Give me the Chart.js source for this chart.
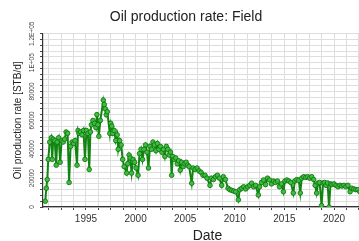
<!DOCTYPE html>
<html>
<head>
<meta charset="utf-8">
<title>Oil production rate: Field</title>
<script src="https://cdn.jsdelivr.net/npm/chart.js@4/dist/chart.umd.min.js"></script>
<style>
  html, body { margin: 0; padding: 0; background: #fff; overflow: hidden; }
  #wrap { width: 359px; height: 241px; overflow: hidden; }
  canvas { display: block; }
</style>
</head>
<body>
<div id="wrap"><canvas id="chart" width="382" height="246"></canvas></div>
<script>
// dates as decimal years, rates in STB/d
const years = [
  1990.9, 1991.0, 1991.1, 1991.2, 1991.35, 1991.5, 1991.6, 1991.7, 1991.85, 1992.0,
  1992.1, 1992.25, 1992.4, 1992.55, 1992.7, 1992.85, 1993.0, 1993.15, 1993.3, 1993.45,
  1993.6, 1993.75, 1993.9, 1994.1, 1994.2, 1994.3, 1994.45, 1994.6, 1994.75, 1994.9,
  1995.05, 1995.2, 1995.33, 1995.45, 1995.55, 1995.7, 1995.85, 1996.0, 1996.1, 1996.2,
  1996.3, 1996.45, 1996.75, 1996.85, 1996.95, 1997.05, 1997.15, 1997.4, 1997.5, 1997.6,
  1997.7, 1997.85, 1998.0, 1998.15, 1998.25, 1998.4, 1998.55, 1998.7, 1998.85, 1999.1,
  1999.2, 1999.35, 1999.45, 1999.6, 1999.75, 1999.9, 2000.05, 2000.25, 2000.4, 2000.55,
  2000.7, 2000.85, 2001.0, 2001.15, 2001.3, 2001.45, 2001.6, 2001.75, 2001.9, 2002.05,
  2002.2, 2002.35, 2002.5, 2002.65, 2002.8, 2002.95, 2003.1, 2003.25, 2003.4, 2003.52,
  2003.64, 2003.75, 2003.9, 2004.05, 2004.2, 2004.35, 2004.5, 2004.65, 2004.8, 2004.95,
  2005.1, 2005.25, 2005.4, 2005.66, 2005.8, 2006.0, 2006.2, 2006.4, 2006.6, 2006.8,
  2007.0, 2007.2, 2007.5, 2007.65, 2007.85, 2008.05, 2008.25, 2008.45, 2008.68, 2008.85,
  2009.05, 2009.32, 2009.5, 2009.7, 2009.9, 2010.1, 2010.36, 2010.5, 2010.7, 2010.9,
  2011.1, 2011.3, 2011.5, 2011.7, 2011.9, 2012.1, 2012.37, 2012.5, 2012.7, 2012.9,
  2013.1, 2013.3, 2013.5, 2013.7, 2013.9, 2014.1, 2014.3, 2014.5, 2014.7, 2014.9,
  2015.05, 2015.25, 2015.45, 2015.65, 2015.9, 2016.05, 2016.25, 2016.45, 2016.6, 2016.75,
  2016.95, 2017.15, 2017.35, 2017.55, 2017.75, 2017.95, 2018.1, 2018.25, 2018.4, 2018.55,
  2018.75, 2018.9, 2019.05, 2019.2, 2019.35, 2019.5, 2019.65, 2019.8, 2020.0, 2020.2,
  2020.4, 2020.6, 2020.8, 2021.0, 2021.2, 2021.4, 2021.62, 2021.8, 2022.0, 2022.2,
  2022.4, 2022.6, 2022.8, 2023.0, 2023.2, 2023.4, 2023.6
];
const rates = [
  4000, 13000, 19000, 33000, 45000, 48000, 33000, 47000, 46000, 29000,
  45000, 48000, 31000, 46000, 45000, 47000, 52000, 51000, 17000, 42000,
  45000, 44000, 46000, 29000, 53000, 51000, 52000, 50000, 53000, 33000,
  53000, 51000, 26000, 52000, 57000, 60000, 58000, 55000, 64000, 57000,
  49000, 60000, 74000, 71000, 68000, 64000, 66000, 51000, 58000, 56000,
  51000, 53000, 46000, 50000, 40000, 46000, 43000, 33000, 28000, 23500,
  30000, 36000, 34000, 23500, 33000, 31000, 27000, 22000, 37000, 40000,
  33000, 40000, 43000, 38000, 27000, 42000, 40000, 45000, 43000, 39000,
  44000, 40000, 42000, 38000, 40000, 35000, 42000, 40000, 36000, 38000,
  22000, 35000, 33000, 34000, 30000, 32000, 25500, 31000, 28000, 30000,
  31000, 29000, 28000, 16500, 27000, 26000, 27000, 25000, 24000, 22000,
  22000, 20000, 15000, 20000, 19000, 21000, 22000, 20000, 15000, 21000,
  19000, 13000, 12000, 11500, 11000, 10600, 5000, 12000, 13000, 14000,
  12500, 14000, 15000, 16500, 14000, 15000, 8300, 14000, 17000, 18700,
  15500, 20000, 18700, 16000, 18000, 17000, 18000, 14000, 16000, 10600,
  18000, 18700, 18000, 17000, 9700, 18000, 19000, 18500, 9700, 20000,
  21000, 20500, 21000, 20000, 21000, 19000, 15000, 9700, 16600, 17000,
  1000, 16600, 17000, 15000, 16600, 0, 16000, 15500, 16000, 15000,
  14000, 15000, 14500, 15000, 14000, 15000, 10600, 13000, 12500, 12000,
  12000, 10600, 11500, 11000, 11500, 10500, 11000
];

const xMin = 1990.67;
const xMax = 2023.83;
const yTickLabels = { 0: '0', 20000: '20000', 40000: '40000', 60000: '60000', 80000: '80000', 100000: '1E+05', 120000: '1.2E+05' };

const points = years.map((yr, i) => ({ x: yr, y: rates[i] }));

const ctx = document.getElementById('chart').getContext('2d');
new Chart(ctx, {
  type: 'line',
  data: {
    datasets: [{
      label: 'Field',
      data: points,
      borderColor: '#108510',
      borderWidth: 2,
      pointRadius: 2.3,
      pointBorderWidth: 0.9,
      pointBackgroundColor: '#40bd40',
      pointBorderColor: '#117811',
      tension: 0
    }]
  },
  options: {
    responsive: false,
    devicePixelRatio: 1,
    animation: false,
    layout: { padding: { left: 0, right: 10, top: 0, bottom: 0 } },
    plugins: {
      legend: { display: false },
      tooltip: { enabled: false },
      title: {
        display: true,
        text: 'Oil production rate: Field',
        color: '#222',
        font: { family: 'Liberation Sans, Arial, sans-serif', size: 14, weight: 'normal' },
        padding: { top: 9, bottom: 8 }
      }
    },
    scales: {
      x: {
        type: 'linear',
        min: xMin,
        max: xMax,
        afterFit: function(scale) { scale.height = 39; },
        grid: { color: '#dedede', lineWidth: 1, tickLength: 3, tickColor: '#444' },
        border: { color: '#333', width: 1.2 },
        ticks: {
          stepSize: 1.25,
          autoSkip: false,
          includeBounds: false,
          maxRotation: 0,
          padding: 3,
          color: '#333',
          font: { family: 'Liberation Sans, Arial, sans-serif', size: 10 },
          callback: function(v) {
            return Math.abs(v % 5) < 0.01 ? String(Math.round(v)) : '';
          }
        },
        title: {
          display: true,
          text: 'Date',
          color: '#222',
          font: { family: 'Liberation Sans, Arial, sans-serif', size: 14 },
          padding: { top: 0, bottom: 1 }
        }
      },
      y: {
        min: 0,
        max: 120000,
        afterFit: function(scale) { scale.width = 43; },
        grid: { color: '#dedede', lineWidth: 1, tickLength: 3, tickColor: '#444' },
        border: { color: '#333', width: 1.2 },
        ticks: {
          stepSize: 4000,
          autoSkip: false,
          minRotation: 90,
          maxRotation: 90,
          crossAlign: 'center',
          padding: -4,
          color: '#444',
          font: { family: 'Liberation Sans, Arial, sans-serif', size: 6.5 },
          callback: function(v) {
            return yTickLabels[v] !== undefined ? yTickLabels[v] : '';
          }
        },
        title: {
          display: true,
          text: 'Oil production rate [STB/d]',
          color: '#222',
          font: { family: 'Liberation Sans, Arial, sans-serif', size: 10 },
          padding: { top: 12.5, bottom: 0 }
        }
      }
    }
  }
});
</script>
</body>
</html>
